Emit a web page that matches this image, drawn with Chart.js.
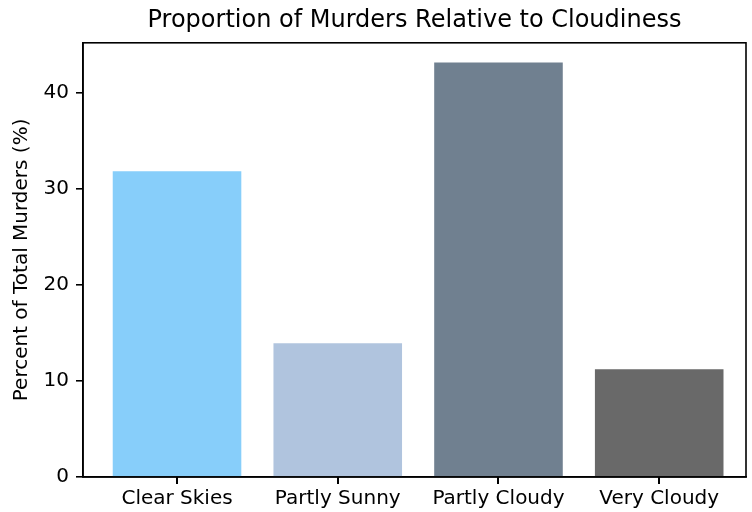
<!DOCTYPE html>
<html>
<head>
<meta charset="utf-8">
<script src="https://cdn.jsdelivr.net/npm/chart.js@4"></script>
<style>
  html, body { margin: 0; padding: 0; background: #fff; }
  #wrap { width: 752px; height: 512px; }
</style>
</head>
<body>
<div id="wrap"><canvas id="myChart"></canvas></div>
<script>
const categories = ["Clear Skies", "Partly Sunny", "Partly Cloudy", "Very Cloudy"];
const percentValues = [31.8, 13.9, 43.1, 11.2];
const barColors = ["#87CEFA", "#B0C4DE", "#708090", "#696969"];
const yTicks = [0, 10, 20, 30, 40];

const FONT = "'DejaVu Sans', sans-serif";

// matplotlib style box around the plot area + x tick marks at bar centres
const framePlugin = {
    id: "frame",
    afterDraw(chart) {
        const a = chart.chartArea;
        const c = chart.ctx;
        const xs = chart.scales.x;
        c.save();
        c.strokeStyle = "#000";
        c.lineWidth = 1.6;
        c.strokeRect(a.left, a.top, a.right - a.left, a.bottom - a.top);
        c.lineWidth = 2;
        c.beginPath();
        for (const t of xs.ticks) {
            const px = Math.round(xs.getPixelForValue(t.value));
            c.moveTo(px, a.bottom);
            c.lineTo(px, a.bottom + 7);
        }
        c.stroke();
        c.restore();
    }
};

// bars sit on a numeric x axis (0..3) so the side margins match matplotlib
const barPoints = categories.map((name, i) => ({ x: i, y: percentValues[i] }));

const ctx = document.getElementById("myChart");
var murderChart = new Chart(ctx, {
    type: "bar",
    data: {
        datasets: [{
            data: barPoints,
            backgroundColor: barColors,
            borderWidth: 0,
            barPercentage: 0.8,
            categoryPercentage: 1.0
        }]
    },
    options: {
        responsive: true,
        maintainAspectRatio: false,
        animation: false,
        layout: { padding: { top: 0, left: 0, right: 6, bottom: 0 } },
        plugins: {
            legend: { display: false },
            tooltip: { enabled: false },
            title: {
                display: true,
                fullSize: false,
                text: "Proportion of Murders Relative to Cloudiness",
                color: "#000",
                font: { family: FONT, size: 24, weight: "normal" },
                padding: { top: 6, bottom: 8 }
            }
        },
        scales: {
            x: {
                type: "linear",
                min: -0.585,
                max: 3.54,
                offset: false,
                afterFit: s => { s.height = 35; },
                afterBuildTicks: s => { s.ticks = categories.map((n, i) => ({ value: i })); },
                border: { display: true, color: "#000", width: 1.6 },
                grid: { display: false, drawTicks: true, tickLength: 7 },
                ticks: {
                    color: "#000",
                    font: { family: FONT, size: 20 },
                    padding: 3,
                    maxRotation: 0,
                    callback: v => categories[v]
                }
            },
            y: {
                min: 0,
                max: 45.15,
                afterFit: s => { s.width = 83; },
                afterBuildTicks: s => { s.ticks = yTicks.map(v => ({ value: v })); },
                border: { display: true, color: "#000", width: 1.6 },
                grid: { display: true, drawOnChartArea: false, drawTicks: true, tickLength: 7, color: "#000", lineWidth: 1.6 },
                ticks: { color: "#000", font: { family: FONT, size: 20 }, padding: 7 },
                title: {
                    display: true,
                    text: "Percent of Total Murders (%)",
                    color: "#000",
                    font: { family: FONT, size: 20 },
                    padding: { top: 10, bottom: 0 }
                }
            }
        }
    },
    plugins: [framePlugin]
});
</script>
</body>
</html>
